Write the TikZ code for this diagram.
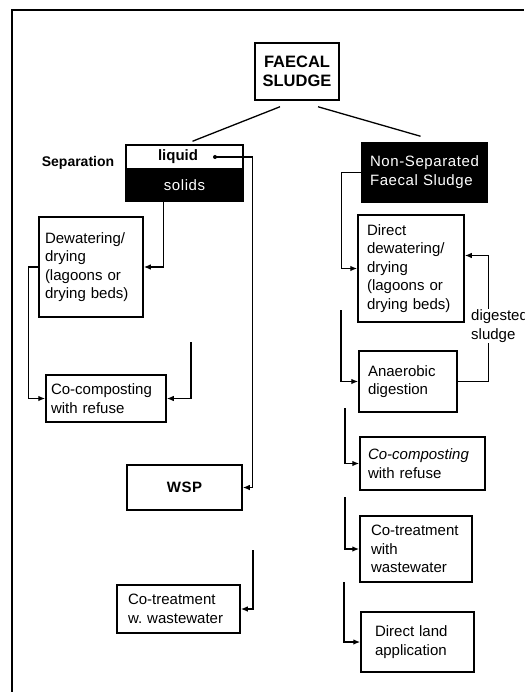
\documentclass[tikz,border=0pt]{standalone}
\usepackage{fontspec}
\setmainfont{Liberation Sans}
\newfontfamily\spacedfont[LetterSpace=4]{Liberation Sans}
\usepackage{tikz}
\usetikzlibrary{arrows.meta, calc, positioning}

\newcommand\bodyfont{\fontsize{15}{18.5}\selectfont}

\begin{document}
\begin{tikzpicture}[x=1pt, y=-1pt,
    box/.style={draw, line width=1.5pt, inner sep=0pt, align=left, font=\bodyfont},
    darkbox/.style={box, fill=black, text=white},
    flow/.style={line width=1.3pt, -{Latex[length=7pt, width=5.5pt]}},
    link/.style={line width=1.3pt}]
                    \useasboundingbox (0, 0) rectangle (524, 692);
                    \draw[link] (12, 692) -- (12, 10) -- (524, 10);

                    % top
                    \node[box, align=center, minimum width=84, minimum height=57,
                      font=\fontsize{16.5}{19}\selectfont\bfseries] (fs) at (297, 71.5) {FAECAL\\SLUDGE};

                    % separated branch
                    \node[box, minimum width=117, minimum height=24] (sep) at (184.5, 157) {};
                    \node[font=\fontsize{15}{18}\selectfont\bfseries] (liquid) at (178, 157) {liquid};
                    \node[darkbox, align=center, minimum width=117, minimum height=32,
                      font=\fontsize{15}{18}\spacedfont] (solids) at (184.5, 185) {solids};
                    \node[font=\fontsize{14}{17}\selectfont\bfseries] (septxt) at (78, 163) {Separation};
                    \node[box, minimum width=104, minimum height=100, text width=92] (dewater) at (91, 267)
                      {Dewatering/\\drying\\(lagoons or\\drying beds)};
                    \node[box, minimum width=120, minimum height=47, text width=110] (cocompL) at (106, 398.5)
                      {Co-composting\\with refuse};
                    \node[box, align=center, minimum width=115, minimum height=45,
                      font=\fontsize{15}{18}\spacedfont\bfseries] (wsp) at (184.5, 487.5) {WSP};
                    \node[box, minimum width=123, minimum height=48, text width=101] (cotreatL) at (178.5, 609)
                      {Co-treatment\\w.\ wastewater};

                    % non-separated branch
                    \node[darkbox, minimum width=125, minimum height=59, text width=109,
                      font=\fontsize{15}{19}\spacedfont] (nonsep) at (424.5, 172.5) {Non-Separated\\Faecal Sludge};
                    \node[box, minimum width=106, minimum height=107, text width=88] (direct) at (411, 268.5)
                      {Direct\\dewatering/\\drying\\(lagoons or\\drying beds)};
                    \node[box, minimum width=98, minimum height=61, text width=80] (anaer) at (408, 381.5)
                      {Anaerobic\\digestion};
                    \node[box, minimum width=125, minimum height=53, text width=109] (cocompR) at (422.5, 463.5)
                      {{\itshape Co-composting}\\with refuse};
                    \node[box, minimum width=112, minimum height=66, text width=90] (cotreatR) at (416, 549)
                      {Co-treatment\\with\\wastewater};
                    \node[box, minimum width=113, minimum height=60, text width=85] (land) at (417.5, 642)
                      {Direct land\\application};

                    \coordinate (dot) at (215, 157);
                    \coordinate (inL) at (191, 342);
                    \coordinate (inT) at (253, 550);
                    \coordinate (inA) at (341, 310);
                    \coordinate (inC) at (345, 408);
                    \coordinate (inW) at (345, 497);
                    \coordinate (inD) at (344, 582);

                    \fill (dot) circle (2);

                    \draw[link]
                    ([xshift=-17pt, yshift=-6pt]fs.south) -- ([xshift=8pt, yshift=3pt]sep.north)
                    ([xshift=21pt, yshift=-6pt]fs.south) -- ([xshift=-4pt, yshift=6pt]nonsep.north);

                    \draw[flow] (dot) -- ([xshift=10pt]wsp.east |- dot) |- (wsp.east);
                    \draw[flow] ([xshift=-21pt]solids.south) |- (dewater.east);
                    \draw[flow] (dewater.west) -- ++(-10, 0) |- (cocompL.west);
                    \draw[flow] (inL) |- (cocompL.east);
                    \draw[flow] (inT) |- (cotreatL.east);

                    \draw[flow] (nonsep.west) -- ++(-20, 0) |- (direct.west);
                    \draw[flow] (inA) |- (anaer.west);
                    \draw[flow] (anaer.east) -- ++(31, 0) |- ([yshift=13pt]direct.east);
                    \draw[flow] (inC) |- (cocompR.west);
                    \draw[flow] (inW) |- (cotreatR.west);
                    \draw[flow] (inD) |- (land.west);

                    \node[fill=white, inner sep=1pt, align=left, anchor=west, font=\bodyfont] (dig) at (470, 326)
                      {digested\\sludge};
                \end{tikzpicture}
\end{document}
